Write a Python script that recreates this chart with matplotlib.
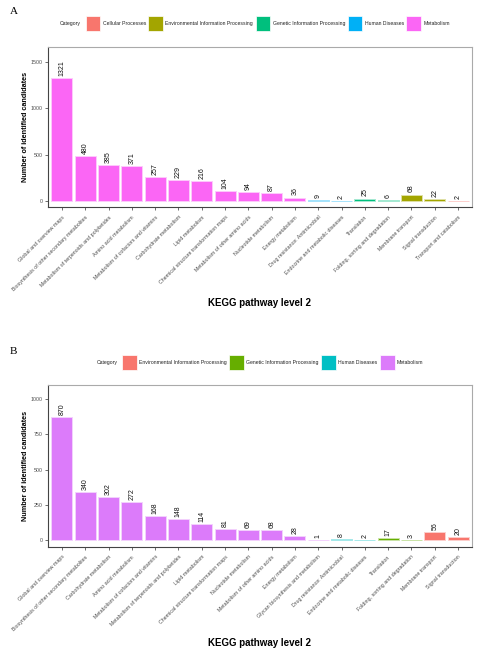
import matplotlib
matplotlib.use("Agg")
import matplotlib.pyplot as plt
from matplotlib.patches import Rectangle
from matplotlib.colors import to_rgb

plt.rcParams['font.family'] = ['Liberation Sans', 'DejaVu Sans']

# Panel A data
pathways_a = ["Global and overview maps", "Biosynthesis of other secondary metabolites",
              "Metabolism of terpenoids and polyketides", "Amino acid metabolism",
              "Metabolism of cofactors and vitamins", "Carbohydrate metabolism",
              "Lipid metabolism", "Chemical structure transformation maps",
              "Metabolism of other amino acids", "Nucleotide metabolism",
              "Energy metabolism", "Drug resistance: Antimicrobial",
              "Endocrine and metabolic diseases", "Translation",
              "Folding, sorting and degradation", "Membrane transport",
              "Signal transduction", "Transport and catabolism"]
counts_a = [1321, 480, 385, 371, 257, 229, 216, 104, 94, 87, 36, 9, 2, 25, 6, 68, 22, 2]
cats_a = ["Metabolism"] * 11 + ["Human Diseases"] * 2 + ["Genetic Information Processing"] * 2 \
         + ["Environmental Information Processing"] * 2 + ["Cellular Processes"]
legend_a = ["Cellular Processes", "Environmental Information Processing",
            "Genetic Information Processing", "Human Diseases", "Metabolism"]
colors_a = ["#F8766D", "#A3A500", "#00BF7D", "#00B0F6", "#FB66F5"]

# Panel B data
pathways_b = ["Global and overview maps", "Biosynthesis of other secondary metabolites",
              "Carbohydrate metabolism", "Amino acid metabolism",
              "Metabolism of cofactors and vitamins", "Metabolism of terpenoids and polyketides",
              "Lipid metabolism", "Chemical structure transformation maps",
              "Nucleotide metabolism", "Metabolism of other amino acids",
              "Energy metabolism", "Glycan biosynthesis and metabolism",
              "Drug resistance: Antimicrobial", "Endocrine and metabolic diseases",
              "Translation", "Folding, sorting and degradation",
              "Membrane transport", "Signal transduction"]
counts_b = [870, 340, 302, 272, 168, 148, 114, 81, 69, 68, 28, 1, 8, 2, 17, 3, 56, 20]
cats_b = ["Metabolism"] * 12 + ["Human Diseases"] * 2 + ["Genetic Information Processing"] * 2 \
         + ["Environmental Information Processing"] * 2
legend_b = ["Environmental Information Processing", "Genetic Information Processing",
            "Human Diseases", "Metabolism"]
colors_b = ["#F8766D", "#66AE00", "#00BFC4", "#DC7BFA"]

W, H = 481, 653
fig = plt.figure(figsize=(W / 100, H / 100), dpi=100)
renderer = fig.canvas.get_renderer()


def px_axes(left, top, right, bottom):
    return fig.add_axes([left / W, 1 - bottom / H, (right - left) / W, (bottom - top) / H])


def tint(c, k=0.65):
    r, g, b = to_rgb(c)
    return (r + (1 - r) * k, g + (1 - g) * k, b + (1 - b) * k)


def draw_legend(labels, colors, center_x, y):
    # lay out "Category" + keys in one row, centered at center_x (pixels)
    items = []
    t = fig.text(0, 1 - y / H, "Category", fontsize=3.7, va="center", ha="left", color="#222222")
    items.append(("text", t))
    for lab, col in zip(labels, colors):
        items.append(("key", col))
        t = fig.text(0, 1 - y / H, lab, fontsize=3.7, va="center", ha="left", color="#222222")
        items.append(("text", t))
    key = 14.5
    widths = []
    for kind, obj in items:
        if kind == "text":
            widths.append(obj.get_window_extent(renderer).width)
        else:
            widths.append(key)
    gaps = [4.6] + [2.5] * (len(items) - 2)
    total = sum(widths) + sum(gaps)
    x = center_x - total / 2
    for i, (kind, obj) in enumerate(items):
        if kind == "text":
            obj.set_x(x / W)
        else:
            fig.patches.append(Rectangle((x / W, 1 - (y + key / 2) / H), key / W, key / H,
                                         facecolor=obj, edgecolor="white", linewidth=0.5,
                                         transform=fig.transFigure, figure=fig))
        x += widths[i]
        if i < len(gaps):
            x += gaps[i]


def draw_panel(ax, names, values, cats, legend, colors, ylim, yticks, ytick_labels):
    cmap = dict(zip(legend, colors))
    xs = list(range(len(names)))
    ax.bar(xs, values, width=0.9, color=[cmap[c] for c in cats],
           edgecolor=[tint(cmap[c]) for c in cats], linewidth=0.7)
    for x, v in zip(xs, values):
        ax.annotate(str(v), (x, v), xytext=(0, 1.5), textcoords="offset points",
                    rotation=90, ha="center", va="bottom", fontsize=5, color="#111111")
    ax.set_xlim(-0.6, len(names) - 0.4)
    ax.set_ylim(*ylim)
    ax.set_yticks(yticks)
    ax.set_yticklabels(ytick_labels)
    ax.set_xticks(xs)
    ax.set_xticklabels(names, rotation=45, ha="right", va="top", rotation_mode="anchor")
    ax.tick_params(axis="both", labelsize=3.8, labelcolor="#4D4D4D", length=2.5, width=0.5,
                   color="#333333", pad=1.5)
    ax.tick_params(axis="x", pad=3)
    for s in ["left", "bottom"]:
        ax.spines[s].set_color("#444444")
        ax.spines[s].set_linewidth(0.8)
    for s in ["top", "right"]:
        ax.spines[s].set_color("#AAAAAA")
        ax.spines[s].set_linewidth(0.8)
    ax.set_ylabel("Number of identified candidates", fontsize=5.2, fontweight="bold", labelpad=1)


# Panel A
ax_a = px_axes(48, 47, 472, 207)
draw_panel(ax_a, pathways_a, counts_a, cats_a, legend_a, colors_a,
           (-66, 1660), [0, 500, 1000, 1500], ["0", "500", "1000", "1500"])
fig.text(260 / W, 1 - 303 / H, "KEGG pathway level 2", fontsize=7, fontweight="bold",
         ha="center", va="center")
fig.text(10 / W, 1 - 11 / H, "A", fontsize=8, family="Liberation Serif", ha="left", va="center")
draw_legend(legend_a, colors_a, 255, 23.3)

# Panel B
ax_b = px_axes(48, 385, 472, 546.7)
draw_panel(ax_b, pathways_b, counts_b, cats_b, legend_b, colors_b,
           (-47, 1099), [0, 250, 500, 750, 1000], ["0", "250", "500", "750", "1000"])
fig.text(260 / W, 1 - 643 / H, "KEGG pathway level 2", fontsize=7, fontweight="bold",
         ha="center", va="center")
fig.text(10 / W, 1 - 351 / H, "B", fontsize=8, family="Liberation Serif", ha="left", va="center")
draw_legend(legend_b, colors_b, 260, 362.3)

fig.savefig("out.png", dpi=100)
